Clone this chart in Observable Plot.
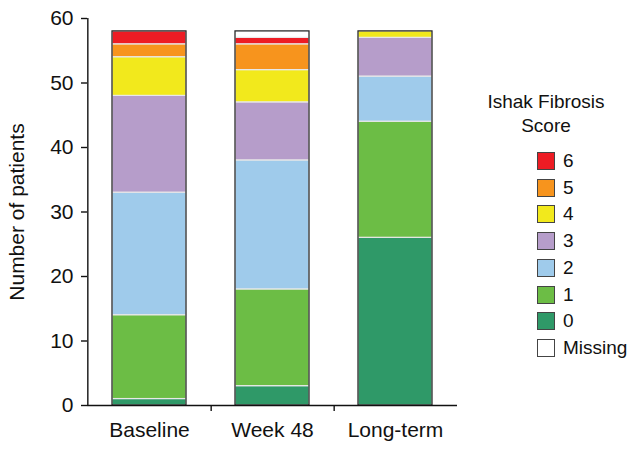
<!DOCTYPE html>
<html><head><meta charset="utf-8">
<script src="https://cdn.jsdelivr.net/npm/d3@7"></script>
<script src="https://cdn.jsdelivr.net/npm/@observablehq/plot@0.6"></script>
<style>
body{margin:0;background:#fff;font-family:"Liberation Sans",Arial,Helvetica,sans-serif;}
#wrap{position:relative;width:630px;height:449px;overflow:hidden;}
#chart{position:absolute;left:0;top:0;}
#legend{position:absolute;left:470px;top:0;width:160px;height:449px;font-size:19px;color:#111;}
#legend .title{position:absolute;left:0;width:152px;top:90px;text-align:center;line-height:24px;}
#legend .row{position:absolute;left:67px;height:18px;display:flex;align-items:center;}
#legend .sw{width:16px;height:16px;border:1px solid #444;box-sizing:content-box;margin-right:8px;}
</style>
</head><body>
<div id="wrap"><div id="chart"></div><div id="legend"></div></div>
<script>
const timepoints = ["Baseline", "Week 48", "Long-term"];
const scores = ["0", "1", "2", "3", "4", "5", "6", "Missing"];
const colors = ["#2f9968", "#6cbd45", "#9fcbeb", "#b69dca", "#f2e91c", "#f7941d", "#ed1c24", "#ffffff"];
const baseline = [1, 13, 19, 15, 6, 2, 2, 0];
const week48 = [3, 15, 20, 9, 5, 4, 1, 1];
const longTerm = [26, 18, 7, 6, 1, 0, 0, 0];
const yTicks = [0, 10, 20, 30, 40, 50, 60];
const legendOrder = ["6", "5", "4", "3", "2", "1", "0", "Missing"];

const series = [baseline, week48, longTerm];
const rows = [];
timepoints.forEach((t, i) => scores.forEach((s, j) => rows.push({time: t, score: s, count: series[i][j]})));

const halfStep = 370 / 3 / 2;
const chart = Plot.plot({
  width: 470,
  height: 449,
  marginLeft: 87,
  marginRight: 13,
  marginTop: 18,
  marginBottom: 44,
  style: {fontFamily: "'Liberation Sans', Arial, Helvetica, sans-serif", fontSize: "21px", color: "#111", background: "white"},
  x: {domain: timepoints, paddingInner: 0.4, paddingOuter: 0.2, label: null},
  y: {domain: [0, 60]},
  color: {domain: scores, range: colors},
  marks: [
    Plot.barY(rows, {x: "time", y: "count", fill: "score", order: scores, stroke: "#e8e8e8", strokeWidth: 1.2}),
    Plot.barY(rows, Plot.groupX({y: "sum"}, {x: "time", y: "count", fill: "none", stroke: "#222", strokeWidth: 1.2})),
    Plot.ruleX(timepoints.slice(0, 2), {x: d => d, y1: 0, y2: 0, insetBottom: -6, dx: halfStep, stroke: "#111", strokeWidth: 1.4}),
    Plot.ruleX(timepoints.slice(0, 1), {x: d => d, y1: 0, y2: 60, dx: -halfStep, stroke: "#111", strokeWidth: 1.4}),
    Plot.ruleY([0], {stroke: "#111", strokeWidth: 1.4}),
    Plot.axisY({ticks: yTicks, tickSize: 6, tickPadding: 8, fontSize: 21, stroke: "#111", strokeWidth: 1.4, label: "Number of patients", labelAnchor: "center", labelArrow: "none", labelOffset: 78}),
    Plot.axisX({tickSize: 0, tickPadding: 17, fontSize: 21, label: null})
  ]
});
document.getElementById("chart").appendChild(chart);

const legend = document.getElementById("legend");
const title = document.createElement("div");
title.className = "title";
title.innerHTML = "Ishak Fibrosis<br>Score";
legend.appendChild(title);
legendOrder.forEach((s, k) => {
  const row = document.createElement("div");
  row.className = "row";
  row.style.top = (152 + k * 26.7) + "px";
  const sw = document.createElement("div");
  sw.className = "sw";
  sw.style.background = colors[scores.indexOf(s)];
  const tx = document.createElement("span");
  tx.textContent = s;
  row.appendChild(sw);
  row.appendChild(tx);
  legend.appendChild(row);
});
</script>
</body></html>
